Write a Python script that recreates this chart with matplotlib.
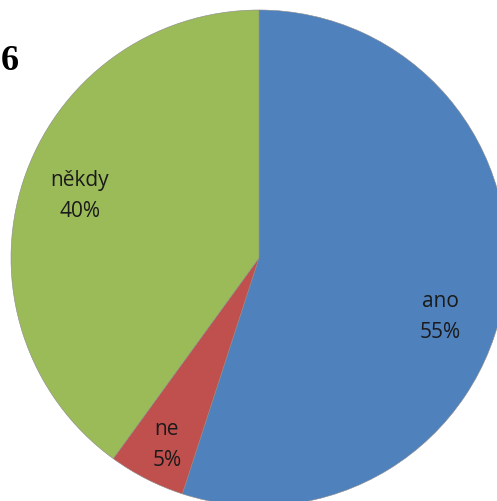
import matplotlib.pyplot as plt

labels = ['ano', 'ne', 'někdy']
values = [55, 5, 40]
colors = ['#4F81BD', '#C0504D', '#9BBB59']

fig = plt.figure(figsize=(4.97, 5.01), dpi=100)
ax = fig.add_axes([0, 0, 1, 1])

# pie centre and radius in pixel units (it is cut off at the right and bottom)
cx, cy, r = 259, 501 - 258, 248
wedges, texts = ax.pie(values, colors=colors, startangle=90, counterclock=False,
                       center=(cx, cy), radius=r, frame=True,
                       wedgeprops=dict(linewidth=0.4, edgecolor='#8a8a8a'))
ax.set_xlim(0, 497)
ax.set_ylim(0, 501)
ax.set_aspect('equal')
ax.axis('off')

label_pos = [(440, 501 - 317), (167, 501 - 445), (80, 501 - 196)]
for lab, v, (x, y) in zip(labels, values, label_pos):
    ax.text(x, y, f'{lab}\n{v}%', ha='center', va='center', fontsize=15,
            family='Open Sans', color='#1a1a1a', linespacing=1.6)

fig.text(1 / 497, 1 - 70 / 501, '6', ha='left', va='baseline',
         family='Liberation Serif', fontweight='bold', fontsize=26)

fig.savefig('out.png', dpi=100)
